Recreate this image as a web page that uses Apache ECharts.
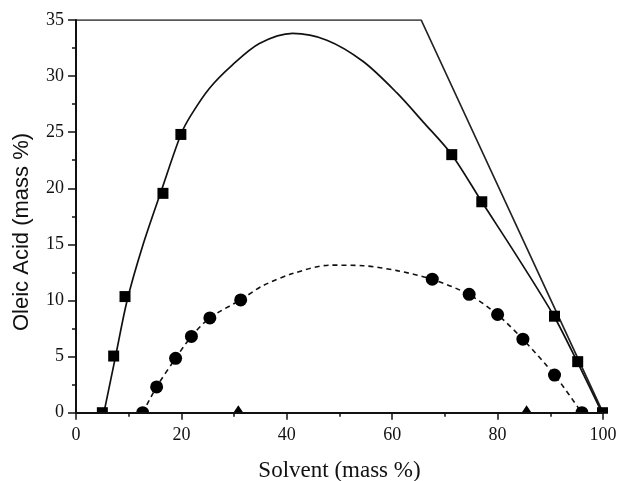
<!DOCTYPE html>
<html>
<head>
<meta charset="utf-8">
<script src="https://cdn.jsdelivr.net/npm/echarts@6/dist/echarts.min.js"></script>
<style>html,body{margin:0;padding:0;background:#fff}#c{width:623px;height:481px}</style>
</head>
<body>
<div id="c"></div>
<script>
// x-axis ticks
const xTicks = [0, 20, 40, 60, 80, 100];
const yTicks = [0, 5, 10, 15, 20, 25, 30, 35];

// Binodal curve (solid) and its experimental points (squares)
const binodalCurve = [[5.3,0],[7.5,5],[9.7,10],[12.6,14.8],[16.2,19.8],[19.9,24.8],[21.8,26.5],[25.3,28.9],[29.7,31.0],[34.8,32.9],[41.1,33.8],[47.6,33.2],[54.5,31.3],[60.9,28.5],[65.9,25.9],[71.3,23.0],[77.0,18.8],[83.6,14.0],[90.7,8.6],[95.1,4.55],[99.8,0]];
const squarePts = [[5.0,0],[7.15,5.05],[9.3,10.35],[16.5,19.55],[19.9,24.8],[71.3,23.0],[77.0,18.8],[90.8,8.6],[95.2,4.55],[99.9,0]];

// Dashed curve and its points (circles)
const dashedCurve = [[12.65,0],[15.3,2.3],[18.9,4.85],[21.9,6.8],[25.4,8.45],[31.2,10.05],[35.4,11.3],[41.1,12.4],[48.2,13.15],[54.5,13.1],[60.9,12.66],[67.5,11.9],[74.5,10.55],[79.9,8.77],[84.8,6.54],[90.8,3.36],[95.96,0]];
const circlePts = [[12.65,0],[15.3,2.3],[18.9,4.85],[21.9,6.8],[25.4,8.45],[31.25,10.05],[67.6,11.9],[74.6,10.55],[80.0,8.75],[84.8,6.55],[90.8,3.35],[96.0,0]];

// Triangles
const trianglePts = [[30.8,0],[85.5,0]];

// Solubility boundary line
const boundaryLine = [[0,35],[65.5,35],[100,0]];

const serif = "'Liberation Serif', 'Times New Roman', serif";
const chart = echarts.init(document.getElementById('c'), null, {renderer: 'canvas'});
const option = {
  backgroundColor: '#fff',
  animation: false,
  grid: {left: 76, right: 20, top: 20, bottom: 68.3, containLabel: false, outerBoundsMode: 'none'},
  xAxis: {
    type: 'value', min: xTicks[0], max: xTicks[xTicks.length-1], interval: 20, z: 100,
    name: 'Solvent (mass %)', nameLocation: 'middle', nameGap: 47,
    nameTextStyle: {fontFamily: serif, fontSize: 23, color: '#111'},
    axisLine: {show: true, onZero: false, lineStyle: {color: '#111', width: 2}},
    axisTick: {show: true, inside: false, length: 7, lineStyle: {color: '#111', width: 1.5}},
    minorTick: {show: true, splitNumber: 2, length: 4, lineStyle: {color: '#111', width: 1.5}},
    axisLabel: {fontFamily: serif, fontSize: 18, color: '#111', margin: 14},
    splitLine: {show: false}
  },
  yAxis: {
    type: 'value', min: yTicks[0], max: yTicks[yTicks.length-1], interval: 5, z: 100,
    axisLine: {show: true, onZero: false, lineStyle: {color: '#111', width: 2}},
    axisTick: {show: true, inside: false, length: 8, lineStyle: {color: '#111', width: 1.5}},
    minorTick: {show: true, splitNumber: 2, length: 4, lineStyle: {color: '#111', width: 1.5}},
    axisLabel: {fontFamily: serif, fontSize: 18, color: '#111', margin: 12},
    splitLine: {show: false}
  },
  series: [
    {type: 'line', data: boundaryLine, showSymbol: false, symbol: 'none', lineStyle: {color: '#222', width: 1.7}, z: 2},
    {type: 'line', data: binodalCurve, smooth: 0.3, symbol: 'none', lineStyle: {color: '#111', width: 1.7}, z: 2},
    {type: 'line', data: dashedCurve, smooth: 0.3, symbol: 'none', lineStyle: {color: '#111', width: 1.6, type: [5, 4]}, z: 2},
    {type: 'scatter', data: squarePts, symbol: 'rect', symbolSize: 11, itemStyle: {color: '#000', opacity: 1}, z: 3},
    {type: 'scatter', data: circlePts, symbol: 'circle', symbolSize: 13, itemStyle: {color: '#000', opacity: 1}, z: 3},
    {type: 'scatter', data: trianglePts, symbol: 'triangle', symbolSize: [20, 15], itemStyle: {color: '#000', opacity: 1}, z: 3}
  ]
};
chart.setOption(option);
const p0 = chart.convertToPixel({gridIndex: 0}, [0, 0]);
const p1 = chart.convertToPixel({gridIndex: 0}, [100, 35]);
chart.setOption({
  graphic: [
    {type: 'rect', z: 50, shape: {x: p0[0] - 12, y: p0[1] + 1, width: p1[0] - p0[0] + 24, height: 10}, style: {fill: '#fff'}},
    {type: 'text', z: 60, x: 22, y: 232, rotation: Math.PI / 2,
     style: {text: 'Oleic Acid (mass %)', font: "22px 'Liberation Sans', Arial, sans-serif", fill: '#111', textAlign: 'center', textVerticalAlign: 'middle'}}
  ]
});
</script>
</body>
</html>
